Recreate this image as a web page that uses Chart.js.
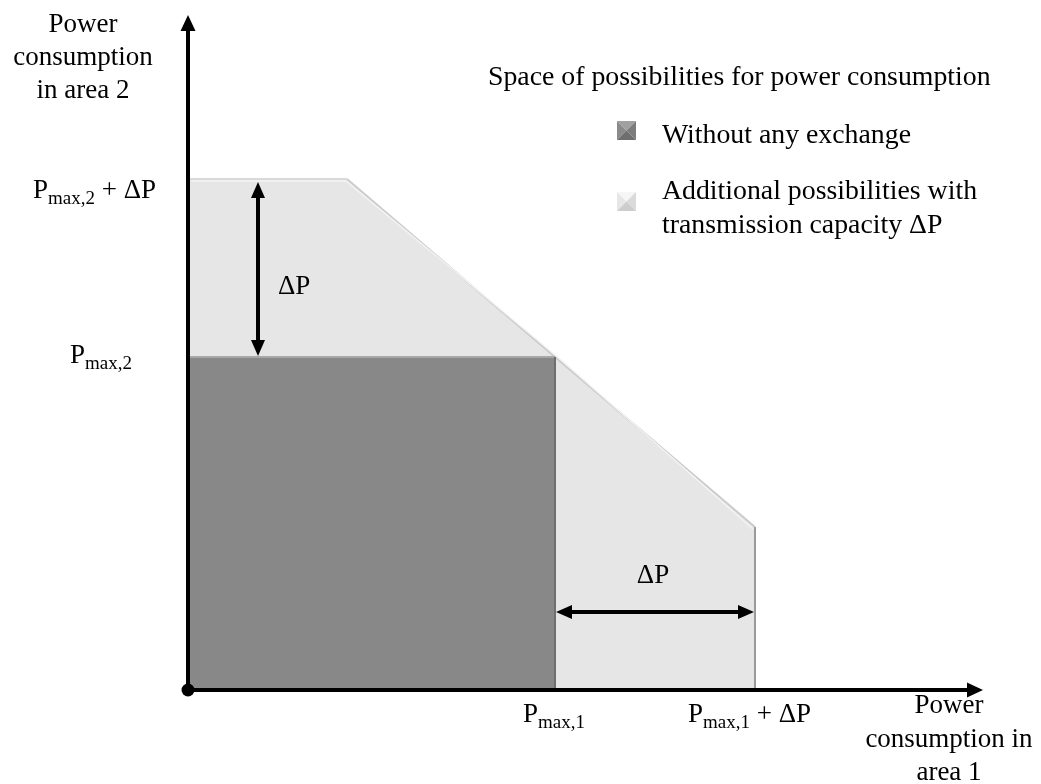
<!DOCTYPE html>
<html>
<head>
<meta charset="utf-8">
<script src="https://cdn.jsdelivr.net/npm/chart.js@4/dist/chart.umd.min.js"></script>
<style>
  html, body { margin: 0; padding: 0; background: #ffffff; overflow: hidden; }
  canvas { display: block; }
</style>
</head>
<body>
<canvas id="c" width="1041" height="784"></canvas>
<script>
// ---- data (arbitrary units) ----
const axisMaxX = 795;
const axisMaxY = 675;
// region without any exchange (rectangle)
const baseX = [0, 367, 367];
const baseY = [333, 333, 0];
// region with additional possibilities (transmission capacity ΔP)
const extX = [0, 159, 367, 567, 567];
const extY = [511, 511, 333, 163, 0];
// ΔP double arrows
const arrowV = { x: 70, from: 333, to: 511 };
const arrowH = { y: 78, from: 367, to: 567 };
// texts
const yAxisTitle = ['Power', 'consumption', 'in area 2'];
const xAxisTitle = ['Power', 'consumption in', 'area 1'];
const legendTitle = 'Space of possibilities for power consumption';
const legendItems = [['Without any exchange'], ['Additional possibilities with', 'transmission capacity ΔP']];

const FONT = '"Liberation Serif", "Times New Roman", serif';

const pts = (xs, ys) => xs.map((x, i) => ({ x: x, y: ys[i] }));

const extSegColors = ['#d9d9d9', '#cccccc', '#cccccc', '#9a9a9a'];
const baseSegColors = ['#a8a8a8', '#6f6f6f'];

function drawRich(ctx, parts, x, y, align) {
  const main = '27px ' + FONT, sub = '19px ' + FONT;
  let w = 0;
  parts.forEach(p => { ctx.font = p.sub ? sub : main; w += ctx.measureText(p.t).width; });
  let cx = align === 'center' ? x - w / 2 : x;
  ctx.textAlign = 'left';
  ctx.textBaseline = 'alphabetic';
  parts.forEach(p => {
    ctx.font = p.sub ? sub : main;
    ctx.fillText(p.t, cx, p.sub ? y + 6 : y);
    cx += ctx.measureText(p.t).width;
  });
}

function bevelSquare(ctx, x, y, s, c) {
  const cxm = x + s / 2, cym = y + s / 2;
  const tri = (p, col) => {
    ctx.beginPath();
    ctx.moveTo(p[0], p[1]); ctx.lineTo(p[2], p[3]); ctx.lineTo(p[4], p[5]);
    ctx.closePath(); ctx.fillStyle = col; ctx.fill();
  };
  tri([x, y, x + s, y, cxm, cym], c.top);
  tri([x, y, x, y + s, cxm, cym], c.left);
  tri([x + s, y, x + s, y + s, cxm, cym], c.right);
  tri([x, y + s, x + s, y + s, cxm, cym], c.bottom);
}

const decorPlugin = {
  id: 'decor',
  afterDatasetsDraw(chart) {
    const ctx = chart.ctx;
    const xs = chart.scales.x, ys = chart.scales.y;
    const X = v => xs.getPixelForValue(v), Y = v => ys.getPixelForValue(v);
    const ox = X(0), oy = Y(0);
    ctx.save();
    ctx.fillStyle = '#000'; ctx.strokeStyle = '#000';

    // light highlight inside polygon edges
    ctx.lineWidth = 1.5;
    ctx.strokeStyle = '#f4f4f4';
    ctx.beginPath();
    ctx.moveTo(ox + 3, Y(extY[0]) + 2);
    ctx.lineTo(X(extX[1]) - 1, Y(extY[1]) + 2);
    ctx.lineTo(X(extX[2]) + 4, Y(extY[2]) + 1);
    ctx.lineTo(X(extX[3]) - 2, Y(extY[3]) + 2);
    ctx.stroke();
    ctx.strokeStyle = '#000';

    // axes
    ctx.lineWidth = 4;
    ctx.beginPath();
    ctx.moveTo(ox, oy); ctx.lineTo(ox, Y(axisMaxY) + 12);
    ctx.moveTo(ox, oy); ctx.lineTo(X(axisMaxX) - 12, oy);
    ctx.stroke();
    const headUp = (x, y, w, l) => { ctx.beginPath(); ctx.moveTo(x, y); ctx.lineTo(x - w / 2, y + l); ctx.lineTo(x + w / 2, y + l); ctx.closePath(); ctx.fill(); };
    const headDown = (x, y, w, l) => { ctx.beginPath(); ctx.moveTo(x, y); ctx.lineTo(x - w / 2, y - l); ctx.lineTo(x + w / 2, y - l); ctx.closePath(); ctx.fill(); };
    const headRight = (x, y, w, l) => { ctx.beginPath(); ctx.moveTo(x, y); ctx.lineTo(x - l, y - w / 2); ctx.lineTo(x - l, y + w / 2); ctx.closePath(); ctx.fill(); };
    const headLeft = (x, y, w, l) => { ctx.beginPath(); ctx.moveTo(x, y); ctx.lineTo(x + l, y - w / 2); ctx.lineTo(x + l, y + w / 2); ctx.closePath(); ctx.fill(); };
    headUp(ox, Y(axisMaxY), 15, 16);
    headRight(X(axisMaxX), oy, 15, 16);
    // origin dot
    ctx.beginPath(); ctx.arc(ox, oy, 6.5, 0, Math.PI * 2); ctx.fill();

    // ΔP vertical double arrow
    const vx = X(arrowV.x), vTop = Y(arrowV.to) + 3, vBot = Y(arrowV.from) - 1;
    ctx.lineWidth = 4;
    ctx.beginPath(); ctx.moveTo(vx, vTop + 10); ctx.lineTo(vx, vBot - 10); ctx.stroke();
    headUp(vx, vTop, 14, 16);
    headDown(vx, vBot, 14, 16);
    // ΔP horizontal double arrow
    const hy = Y(arrowH.y), hL = X(arrowH.from) + 1, hR = X(arrowH.to) - 1;
    ctx.beginPath(); ctx.moveTo(hL + 10, hy); ctx.lineTo(hR - 10, hy); ctx.stroke();
    headLeft(hL, hy, 14, 16);
    headRight(hR, hy, 14, 16);

    // labels
    ctx.fillStyle = '#000';
    drawRich(ctx, [{ t: 'P' }, { t: 'max,2', sub: true }, { t: ' + ΔP' }], ox - 155, Y(extY[0]) + 19, 'left');
    drawRich(ctx, [{ t: 'P' }, { t: 'max,2', sub: true }], ox - 118, Y(baseY[0]) + 6, 'left');
    drawRich(ctx, [{ t: 'ΔP' }], vx + 20, (vTop + vBot) / 2 + 25, 'left');
    drawRich(ctx, [{ t: 'P' }, { t: 'max,1', sub: true }], X(baseX[1]) - 32, oy + 32, 'left');
    drawRich(ctx, [{ t: 'P' }, { t: 'max,1', sub: true }, { t: ' + ΔP' }], X(extX[3]) - 67, oy + 32, 'left');
    drawRich(ctx, [{ t: 'ΔP' }], (hL + hR) / 2 - 2, hy - 29, 'center');

    // axis titles
    ctx.font = '27px ' + FONT;
    ctx.textAlign = 'center';
    yAxisTitle.forEach((s, i) => ctx.fillText(s, ox - 105, 32 + i * 33));
    xAxisTitle.forEach((s, i) => ctx.fillText(s, X(axisMaxX) - 34, oy + 23 + i * 33.5));

    // legend
    ctx.font = '27.8px ' + FONT;
    ctx.textAlign = 'left';
    ctx.fillText(legendTitle, 488, 85);
    bevelSquare(ctx, 617, 121, 19, { top: '#a0a0a0', left: '#8a8a8a', right: '#7c7c7c', bottom: '#6e6e6e' });
    ctx.fillStyle = '#000';
    ctx.fillText(legendItems[0][0], 662, 143);
    bevelSquare(ctx, 617, 192, 19, { top: '#f6f6f6', left: '#e6e6e6', right: '#dadada', bottom: '#cdcdcd' });
    ctx.fillStyle = '#000';
    ctx.fillText(legendItems[1][0], 662, 199);
    ctx.fillText(legendItems[1][1], 662, 233);
    ctx.restore();
  }
};

new Chart(document.getElementById('c'), {
  type: 'line',
  data: {
    datasets: [
      {
        label: 'Without any exchange',
        data: pts(baseX, baseY),
        borderWidth: 2,
        borderColor: '#a8a8a8',
        segment: { borderColor: c => baseSegColors[c.p0DataIndex] },
        backgroundColor: '#888888',
        fill: 'origin',
        pointRadius: 0,
        tension: 0,
        order: 1
      },
      {
        label: 'Additional possibilities with transmission capacity ΔP',
        data: pts(extX, extY),
        borderWidth: 2,
        borderColor: '#cccccc',
        segment: { borderColor: c => extSegColors[c.p0DataIndex] },
        backgroundColor: '#e6e6e6',
        fill: 'origin',
        pointRadius: 0,
        tension: 0,
        order: 2
      }
    ]
  },
  options: {
    responsive: false,
    animation: false,
    devicePixelRatio: 1,
    layout: { padding: { left: 188, right: 58, top: 15, bottom: 94 } },
    scales: {
      x: { type: 'linear', min: 0, max: axisMaxX, display: false },
      y: { type: 'linear', min: 0, max: axisMaxY, display: false }
    },
    plugins: { legend: { display: false }, tooltip: { enabled: false } },
    events: []
  },
  plugins: [decorPlugin]
});
</script>
</body>
</html>
